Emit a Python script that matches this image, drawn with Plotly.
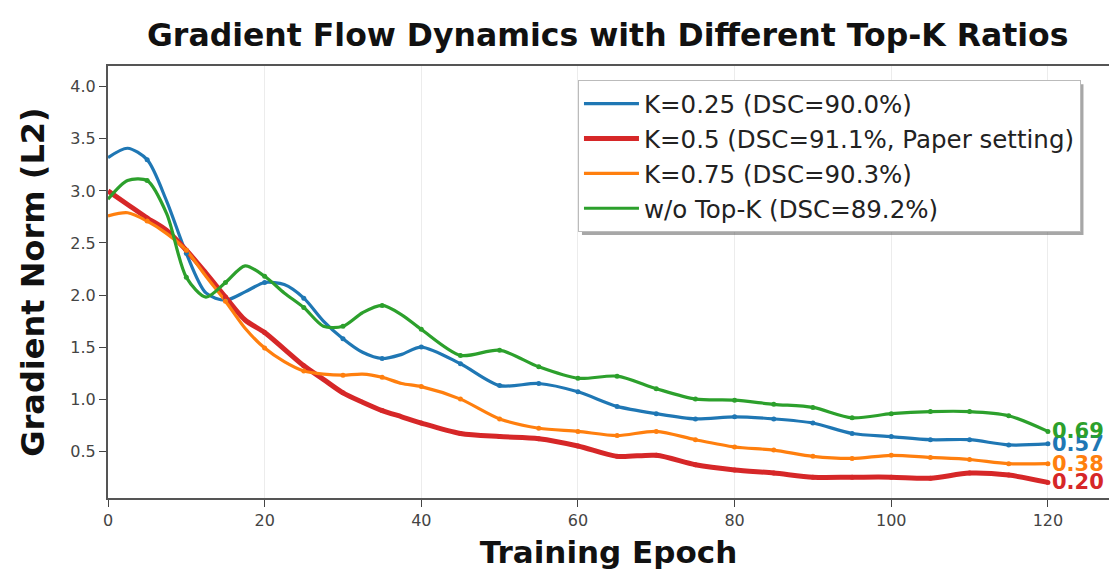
import plotly.graph_objects as go

# Training epochs sampled for each curve
epochs = [0, 2.5, 5, 7.5, 10, 12.5, 15, 17.5, 20, 22.5, 25, 27.5, 30, 32.5, 35, 37.5, 40,
          45, 50, 55, 60, 65, 70, 75, 80, 85, 90, 95, 100, 105, 110, 115, 120]

# Gradient norm (L2) per Top-K setting
k025 = [3.32, 3.41, 3.30, 2.90, 2.40, 2.02, 1.95, 2.03, 2.12, 2.10, 1.97, 1.75, 1.58, 1.45, 1.39, 1.43, 1.50,
        1.34, 1.13, 1.15, 1.07, 0.93, 0.86, 0.81, 0.83, 0.81, 0.77, 0.67, 0.64, 0.61, 0.61, 0.56, 0.57]
k050 = [3.00, 2.87, 2.74, 2.62, 2.43, 2.21, 1.98, 1.76, 1.64, 1.48, 1.32, 1.19, 1.06, 0.97, 0.89, 0.83, 0.77,
        0.67, 0.64, 0.62, 0.55, 0.45, 0.46, 0.37, 0.32, 0.29, 0.25, 0.25, 0.25, 0.24, 0.29, 0.27, 0.20]
k075 = [2.76, 2.79, 2.71, 2.59, 2.43, 2.18, 1.94, 1.68, 1.49, 1.36, 1.27, 1.24, 1.23, 1.24, 1.21, 1.15, 1.12,
        1.00, 0.81, 0.72, 0.69, 0.65, 0.69, 0.61, 0.54, 0.51, 0.45, 0.43, 0.46, 0.44, 0.42, 0.38, 0.38]
no_topk = [2.92, 3.10, 3.10, 2.78, 2.17, 1.98, 2.12, 2.28, 2.18, 2.02, 1.88, 1.70, 1.70, 1.83, 1.90, 1.81, 1.67,
           1.42, 1.47, 1.31, 1.20, 1.22, 1.10, 1.00, 0.99, 0.95, 0.92, 0.82, 0.86, 0.88, 0.88, 0.84, 0.69]

series_names = ["K=0.25 (DSC=90.0%)", "K=0.5 (DSC=91.1%, Paper setting)",
                "K=0.75 (DSC=90.3%)", "w/o Top-K (DSC=89.2%)"]
series_values = [k025, k050, k075, no_topk]
colors = ["#1f77b4", "#d62728", "#ff7f0e", "#2ca02c"]
widths = [3.2, 5, 3.2, 3.2]

x_ticks = [0, 20, 40, 60, 80, 100, 120]
y_ticks = [0.5, 1.0, 1.5, 2.0, 2.5, 3.0, 3.5, 4.0]

FONT = "DejaVu Sans"

fig = go.Figure()

for name, vals, col, w in zip(series_names, series_values, colors, widths):
    fig.add_trace(go.Scatter(
        x=epochs, y=vals, name=name, mode="lines",
        line=dict(color=col, width=w, shape="spline", smoothing=0.8),
    ))

# small dots on every 5th epoch
for vals, col in zip(series_values, colors):
    xs = [e for e in epochs if e % 5 == 0 and e > 0]
    ys = [v for e, v in zip(epochs, vals) if e % 5 == 0 and e > 0]
    fig.add_trace(go.Scatter(
        x=xs, y=ys, mode="markers", showlegend=False, hoverinfo="skip",
        marker=dict(color=col, size=5),
    ))

# final value labels at the end of each curve
for vals, col in zip(series_values, colors):
    fig.add_annotation(
        x=epochs[-1], y=vals[-1], text=f"<b>{vals[-1]:.2f}</b>",
        xanchor="left", yanchor="middle", xshift=2, showarrow=False,
        font=dict(family=FONT, size=21, color=col),
    )

# soft drop shadow behind the legend box
fig.add_shape(type="rect", xref="paper", yref="paper",
              x0=0.4735, x1=0.9745, y0=0.609, y1=0.958,
              fillcolor="rgba(80,80,80,0.5)", line=dict(width=0), layer="above")

fig.update_layout(
    width=1109, height=575,
    margin=dict(l=108, r=0, t=66, b=77),
    paper_bgcolor="white", plot_bgcolor="white",
    title=dict(text="<b>Gradient Flow Dynamics with Different Top-K Ratios</b>",
               x=0.548, xanchor="center", y=0.94, yanchor="middle",
               font=dict(family=FONT, size=31.5, color="#111")),
    font=dict(family=FONT, color="#333"),
    legend=dict(x=0.4695, y=0.967, xanchor="left", yanchor="top",
                bgcolor="white", bordercolor="#bbbbbb", borderwidth=1,
                itemwidth=55,
                font=dict(family=FONT, size=24.5, color="#222")),
    showlegend=True,
)

fig.update_xaxes(
    range=[0, 127.8], tickvals=x_ticks, ticks="outside", ticklen=7, tickcolor="#444",
    showline=True, linecolor="#555", linewidth=2, mirror=True,
    showgrid=True, gridcolor="#ececec", gridwidth=1, zeroline=False,
    tickfont=dict(family=FONT, size=16, color="#444"),
    title=dict(text="<b>Training Epoch</b>", font=dict(family=FONT, size=31, color="#111"), standoff=12),
)
fig.update_yaxes(
    range=[0.05, 4.2], tickvals=y_ticks, tickformat=".1f", ticks="outside", ticklen=7, tickcolor="#444",
    showline=True, linecolor="#555", linewidth=2,
    showgrid=False, zeroline=False,
    tickfont=dict(family=FONT, size=16, color="#444"),
    title=dict(text="<b>Gradient Norm (L2)</b>", font=dict(family=FONT, size=32, color="#111"), standoff=16),
)

fig.write_html("out.html")
